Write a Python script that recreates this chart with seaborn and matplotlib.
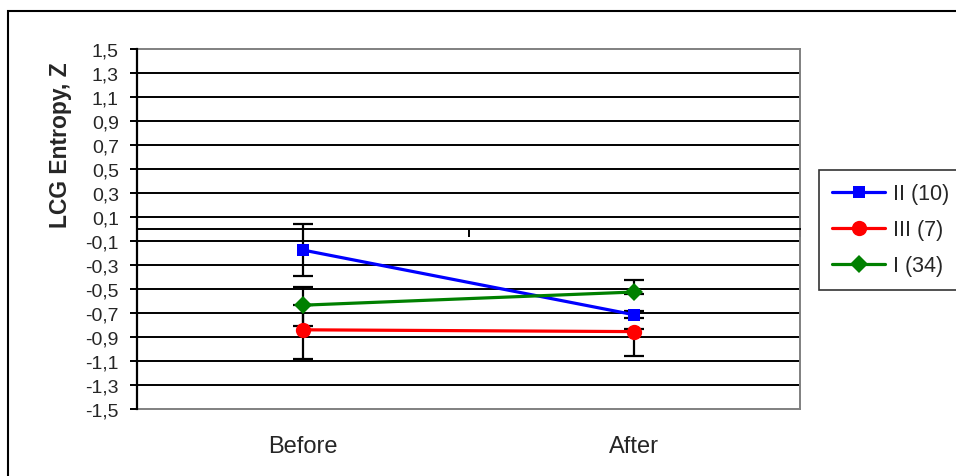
import numpy as np
import pandas as pd
import seaborn as sns
import matplotlib.pyplot as plt
from matplotlib.patches import Rectangle
from matplotlib.ticker import FuncFormatter

# Group means of LCG entropy (Z) before and after, with their error margins
phases = ["Before", "After"]
groups = ["II (10)", "III (7)", "I (34)"]
mean_II = [-0.175, -0.715]
mean_III = [-0.84, -0.855]
mean_I = [-0.635, -0.525]
err_lo_II = [0.215, 0.03]
err_hi_II = [0.215, 0.03]
err_lo_III = [0.24, 0.20]
err_hi_III = [0.205, 0.02]
err_lo_I = [0.175, 0.02]
err_hi_I = [0.155, 0.10]
y_ticks = [1.5, 1.3, 1.1, 0.9, 0.7, 0.5, 0.3, 0.1, -0.1, -0.3,
           -0.5, -0.7, -0.9, -1.1, -1.3, -1.5]

colors = {"II (10)": "#0000FF", "III (7)": "#FF0000", "I (34)": "#008000"}
markers = {"II (10)": "s", "III (7)": "o", "I (34)": "D"}
sizes = {"II (10)": 8, "III (7)": 11, "I (34)": 9.5}

means = {"II (10)": mean_II, "III (7)": mean_III, "I (34)": mean_I}
errs = {"II (10)": [err_lo_II, err_hi_II],
        "III (7)": [err_lo_III, err_hi_III],
        "I (34)": [err_lo_I, err_hi_I]}

rows = []
for g in groups:
    for i, p in enumerate(phases):
        rows.append({"phase": p, "pos": i + 1, "group": g, "z": means[g][i]})
df = pd.DataFrame(rows)

sns.set_theme(style="white")
plt.rcParams["font.family"] = ["Liberation Sans", "DejaVu Sans"]

fig = plt.figure(figsize=(9.56, 4.77), dpi=100)
ax = fig.add_axes([137 / 956, 1 - 410 / 477, (800 - 137) / 956, 360 / 477])

# outer chart frame
fig.patches.append(Rectangle((8 / 956, -0.05), 1.1, 1 - 12 / 477 + 0.05,
                             transform=fig.transFigure, fill=False,
                             edgecolor="black", linewidth=1.5, zorder=0))

ax.set_xlim(0.5, 2.5)
ax.set_ylim(-1.5, 1.5)

# horizontal gridlines
ax.hlines(y_ticks[1:-1], 0, 1, transform=ax.get_yaxis_transform(),
          colors="black", linewidth=1.4, zorder=1)

# error bars
for g in groups:
    ax.errorbar([1, 2], means[g], yerr=np.array(errs[g]), fmt="none",
                ecolor="black", elinewidth=1.6, capsize=7, capthick=1.6,
                zorder=2)

sns.lineplot(data=df, x="pos", y="z", hue="group", style="group",
             hue_order=groups, style_order=groups, palette=colors,
             markers=markers, dashes=False, linewidth=2.3,
             markeredgewidth=0, ax=ax, zorder=3, legend=False)
for line, g in zip(ax.get_lines()[-len(groups):], groups):
    line.set_markersize(sizes[g])

# y axis
ax.set_yticks(y_ticks)
ax.yaxis.set_major_formatter(FuncFormatter(lambda v, _: f"{v:.1f}".replace(".", ",")))
ax.tick_params(axis="y", direction="out", length=5, width=1.4, color="black",
               labelsize=14, pad=8, left=True)
ax.spines["left"].set_color("black")
ax.spines["left"].set_linewidth(1.6)
ax.spines["left"].set_zorder(4)
for s in ["top", "right"]:
    ax.spines[s].set_color("#808080")
    ax.spines[s].set_linewidth(1.4)

# horizontal axis crossing at zero with category separators
ax.spines["bottom"].set_position(("data", 0))
ax.spines["bottom"].set_color("black")
ax.spines["bottom"].set_linewidth(1.4)
ax.set_xticks([0.5, 1.5, 2.5])
ax.tick_params(axis="x", direction="out", length=6, width=1.4, color="black",
               labelbottom=False, bottom=True)
ax.set_xlabel("")
ax.set_ylabel("")

# category labels with the lower border of the plot area
sec = ax.secondary_xaxis(0)
sec.set_xticks([1, 2])
sec.set_xticklabels(phases)
sec.tick_params(axis="x", length=0, labelsize=17, pad=19)
sec.spines["bottom"].set_color("#808080")
sec.spines["bottom"].set_linewidth(1.4)

fig.text(60 / 956, 1 - 145 / 477, "LCG Entropy, Z", rotation=90,
         ha="center", va="center", fontsize=16.5, fontweight="bold")

# legend
handles = [plt.Line2D([], [], color=colors[g], marker=markers[g], linewidth=2.3,
                      markersize=sizes[g], markeredgewidth=0) for g in groups]
leg = fig.legend(handles, groups, loc="upper left",
                 bbox_to_anchor=(819 / 956, 1 - 171 / 477), borderaxespad=0,
                 frameon=True, fontsize=15.5, handlelength=2.45,
                 handletextpad=0.37, labelspacing=0.7, borderpad=0.62,
                 fancybox=False)
leg.get_frame().set_edgecolor("black")
leg.get_frame().set_linewidth(1.2)

fig.savefig("out.png", dpi=100)
